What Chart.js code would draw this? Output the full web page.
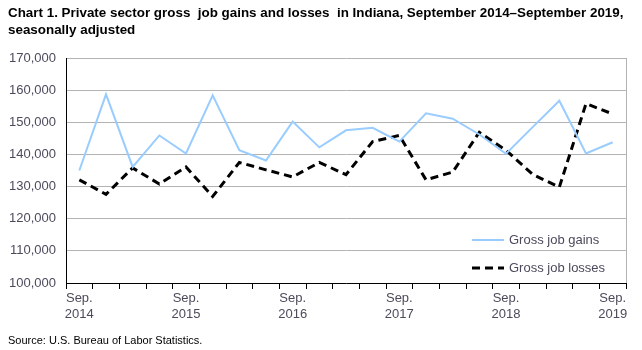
<!DOCTYPE html>
<html lang="en">
<head>
  <meta charset="UTF-8">
  <script src="https://cdn.jsdelivr.net/npm/chart.js@4.4.0/dist/chart.umd.min.js"></script>
  <title>Indiana job gains and losses</title>
  <style>
    body { margin: 0; background: #fff; }
    #wrap { position: relative; width: 642px; height: 350px; }
    #title {
      position: absolute; left: 8px; top: 4px; margin: 0;
      font: bold 13.4px "Liberation Sans", Arial, sans-serif;
      line-height: 17px; color: #000; white-space: pre;
    }
    #source {
      position: absolute; left: 8px; top: 334px;
      font: 11px "Liberation Sans", Arial, sans-serif;
      color: #000;
    }
    canvas { position: absolute; left: 0; top: 0; }
  </style>
</head>
<body>
  <div id="wrap">
    <canvas id="myChart" width="642" height="350"></canvas>
    <div id="title">Chart 1. Private sector gross  job gains and losses  in Indiana, September 2014–September 2019,
seasonally adjusted</div>
    <div id="source">Source: U.S. Bureau of Labor Statistics.</div>
  </div>

  <script>
    // quarters, Sep 2014 - Sep 2019
    const quarters = [
      'Sep. 2014', 'Dec. 2014', 'Mar. 2015', 'Jun. 2015',
      'Sep. 2015', 'Dec. 2015', 'Mar. 2016', 'Jun. 2016',
      'Sep. 2016', 'Dec. 2016', 'Mar. 2017', 'Jun. 2017',
      'Sep. 2017', 'Dec. 2017', 'Mar. 2018', 'Jun. 2018',
      'Sep. 2018', 'Dec. 2018', 'Mar. 2019', 'Jun. 2019',
      'Sep. 2019'
    ];
    const gains = [
      135000, 158700, 136100, 145900, 140300, 158400, 141300, 138100,
      150200, 142200, 147500, 148300, 144000, 152800, 151100, 146200,
      140200, 148500, 156700, 140300, 143800
    ];
    const losses = [
      132100, 127600, 135800, 130800, 136100, 126900, 137500, 135200,
      133000, 137500, 133700, 144000, 145900, 132100, 134500, 146900,
      141300, 133800, 129800, 155800, 152600
    ];
    const yTicks = [100000, 110000, 120000, 130000, 140000, 150000, 160000, 170000];

    const labelFont = { family: "'Liberation Sans', Arial, sans-serif", size: 13 };
    const tickColor = '#4b4b5c';

    // plot frame (right edge) + legend inside the plot
    const extras = {
      id: 'extras',
      afterDraw(chart) {
        const { ctx, chartArea: a } = chart;
        ctx.save();
        ctx.strokeStyle = '#b3b3b3';
        ctx.lineWidth = 1;
        ctx.beginPath();
        ctx.moveTo(Math.round(a.right) + 0.5, a.top);
        ctx.lineTo(Math.round(a.right) + 0.5, a.bottom);
        ctx.stroke();

        const items = chart.data.datasets;
        const x0 = 472, x1 = 504;
        const ys = [240, 268];
        ctx.font = "13px 'Liberation Sans', Arial, sans-serif";
        ctx.textBaseline = 'middle';
        items.forEach((ds, i) => {
          ctx.beginPath();
          ctx.strokeStyle = ds.borderColor;
          ctx.lineWidth = ds.borderWidth;
          ctx.setLineDash(ds.borderDash || []);
          ctx.moveTo(x0, ys[i]);
          ctx.lineTo(x1, ys[i]);
          ctx.stroke();
          ctx.setLineDash([]);
          ctx.fillStyle = tickColor;
          ctx.fillText(ds.label, 509, ys[i]);
        });
        ctx.restore();
      }
    };

    const ctx = document.getElementById('myChart');
    const myChart = new Chart(ctx, {
      type: 'line',
      data: {
        labels: quarters,
        datasets: [{
          label: 'Gross job gains',
          data: gains,
          borderColor: '#99ccff',
          borderWidth: 2,
          pointRadius: 0,
          tension: 0,
          fill: false
        }, {
          label: 'Gross job losses',
          data: losses,
          borderColor: '#000000',
          borderWidth: 3,
          borderDash: [8, 5],
          pointRadius: 0,
          tension: 0,
          fill: false
        }]
      },
      options: {
        responsive: false,
        animation: false,
        layout: { padding: { left: 0, top: 58, right: 16, bottom: 0 } },
        plugins: {
          legend: { display: false },
          tooltip: { enabled: false }
        },
        scales: {
          x: {
            type: 'category',
            offset: true,
            grid: {
              offset: true,
              drawOnChartArea: false,
              drawTicks: true,
              tickLength: 6,
              color: '#000'
            },
            border: { color: '#000', width: 1 },
            ticks: {
              autoSkip: false,
              maxRotation: 0,
              padding: 2,
              color: tickColor,
              font: labelFont,
              callback: function (v, i) {
                return i % 4 === 0 ? quarters[i].split(' ') : '';
              }
            },
            afterFit: function (s) { s.height = 67; }
          },
          y: {
            min: 100000,
            max: 170000,
            afterBuildTicks: function (s) { s.ticks = yTicks.map(v => ({ value: v })); },
            grid: { color: '#b3b3b3', drawTicks: false },
            border: { color: '#000', width: 1 },
            ticks: {
              padding: 10,
              color: tickColor,
              font: labelFont,
              callback: v => v.toLocaleString('en-US')
            },
            afterFit: function (s) { s.width = 66; }
          }
        }
      },
      plugins: [extras]
    });
  </script>
</body>
</html>
